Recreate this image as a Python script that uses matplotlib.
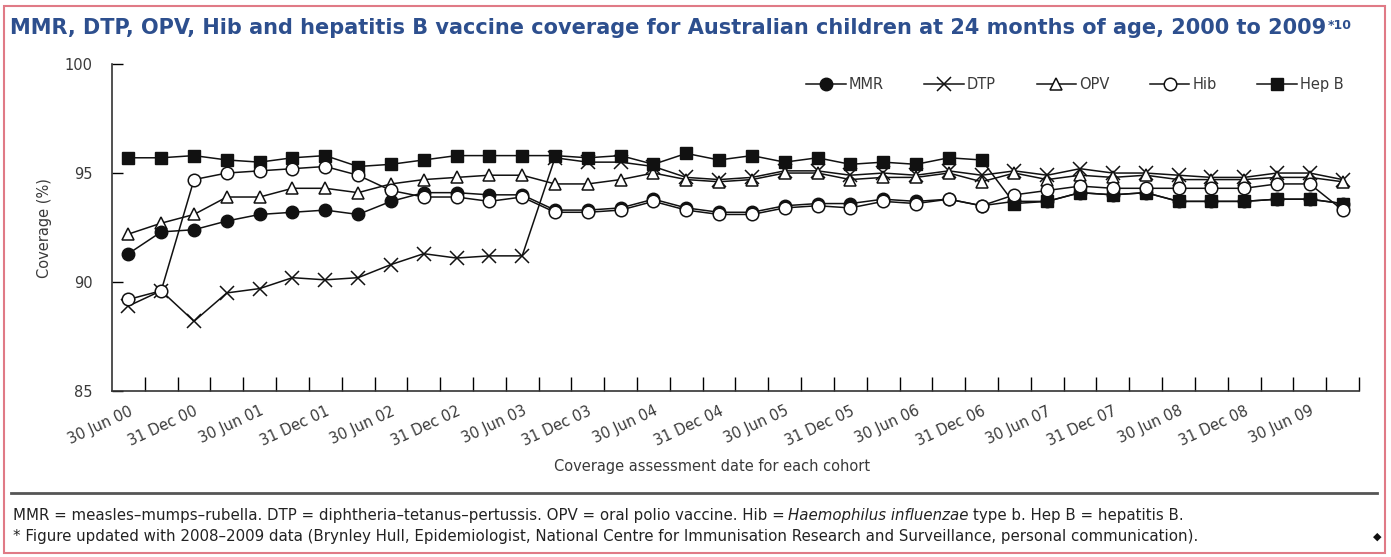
import matplotlib
matplotlib.use("Agg")
import matplotlib.pyplot as plt
from matplotlib.lines import Line2D
from matplotlib.patches import Rectangle

# Quarterly coverage at 24 months, 30 Jun 2000 .. 30 Sep 2009 (38 points)
mmr = [91.3, 92.3, 92.4, 92.8, 93.1, 93.2, 93.3, 93.1, 93.7, 94.1, 94.1, 94.0, 94.0,
       93.3, 93.3, 93.4, 93.8, 93.4, 93.2, 93.2, 93.5, 93.6, 93.6, 93.8, 93.7, 93.8,
       93.5, 93.7, 93.7, 94.1, 94.0, 94.1, 93.7, 93.7, 93.7, 93.8, 93.8, 93.6]
dtp = [88.9, 89.6, 88.2, 89.5, 89.7, 90.2, 90.1, 90.2, 90.8, 91.3, 91.1, 91.2, 91.2,
       95.7, 95.5, 95.5, 95.3, 94.8, 94.7, 94.8, 95.1, 95.1, 94.9, 95.0, 94.9, 95.1,
       94.9, 95.1, 94.9, 95.2, 95.0, 95.0, 94.9, 94.8, 94.8, 95.0, 95.0, 94.7]
opv = [92.2, 92.7, 93.1, 93.9, 93.9, 94.3, 94.3, 94.1, 94.5, 94.7, 94.8, 94.9, 94.9,
       94.5, 94.5, 94.7, 95.0, 94.7, 94.6, 94.7, 95.0, 95.0, 94.7, 94.8, 94.8, 95.0,
       94.6, 95.0, 94.7, 94.9, 94.8, 94.9, 94.7, 94.7, 94.7, 94.8, 94.8, 94.6]
hib = [89.2, 89.6, 94.7, 95.0, 95.1, 95.2, 95.3, 94.9, 94.2, 93.9, 93.9, 93.7, 93.9,
       93.2, 93.2, 93.3, 93.7, 93.3, 93.1, 93.1, 93.4, 93.5, 93.4, 93.7, 93.6, 93.8,
       93.5, 94.0, 94.2, 94.4, 94.3, 94.3, 94.3, 94.3, 94.3, 94.5, 94.5, 93.3]
hepb = [95.7, 95.7, 95.8, 95.6, 95.5, 95.7, 95.8, 95.3, 95.4, 95.6, 95.8, 95.8, 95.8,
        95.8, 95.7, 95.8, 95.4, 95.9, 95.6, 95.8, 95.5, 95.7, 95.4, 95.5, 95.4, 95.7,
        95.6, 93.6, 93.7, 94.1, 94.0, 94.1, 93.7, 93.7, 93.7, 93.8, 93.8, 93.6]

date_labels = ["30 Jun 00", "31 Dec 00", "30 Jun 01", "31 Dec 01", "30 Jun 02",
               "31 Dec 02", "30 Jun 03", "31 Dec 03", "30 Jun 04", "31 Dec 04",
               "30 Jun 05", "31 Dec 05", "30 Jun 06", "31 Dec 06", "30 Jun 07",
               "31 Dec 07", "30 Jun 08", "31 Dec 08", "30 Jun 09"]

title_col = "#2d4f8e"
grey = "#3a3a3a"
note_col = "#222222"

fig = plt.figure(figsize=(13.91, 5.57), dpi=100)
ax = fig.add_axes([0.0805, 0.298, 0.8965, 0.587])

x = list(range(len(mmr)))
style = dict(color="#111111", lw=1.1)
ax.plot(x, dtp, marker="x", ms=10, mew=1.1, **style)
ax.plot(x, opv, marker="^", ms=9, mfc="white", mec="#111111", mew=1.1, **style)
ax.plot(x, hepb, marker="s", ms=8, mfc="#111111", mec="#111111", **style)
ax.plot(x, mmr, marker="o", ms=9, mfc="#111111", mec="#111111", **style)
ax.plot(x, hib, marker="o", ms=9, mfc="white", mec="#111111", mew=1.1, **style)

ax.set_xlim(-0.5, len(mmr) - 0.5)
ax.set_ylim(85, 100)
ax.set_yticks([85, 90, 95, 100])
ax.tick_params(axis="y", direction="in", length=8, width=1, labelsize=10.5,
               labelcolor=grey, pad=14)
ax.set_xticks(range(0, 37, 2))
ax.set_xticklabels(date_labels, rotation=25, ha="right", rotation_mode="anchor",
                   fontsize=10.5, color=grey)
ax.tick_params(axis="x", which="major", length=0, pad=9)
ax.set_xticks([i + 0.5 for i in range(len(mmr))], minor=True)
ax.tick_params(axis="x", which="minor", direction="in", length=10, width=1)
for s in ["top", "right"]:
    ax.spines[s].set_visible(False)
for s in ["left", "bottom"]:
    ax.spines[s].set_color("#333333")
    ax.spines[s].set_linewidth(1.2)

handles = [
    Line2D([], [], marker="o", ms=9, mfc="#111111", mec="#111111", **style),
    Line2D([], [], marker="x", ms=10, mew=1.1, **style),
    Line2D([], [], marker="^", ms=9, mfc="white", mec="#111111", mew=1.1, **style),
    Line2D([], [], marker="o", ms=9, mfc="white", mec="#111111", mew=1.1, **style),
    Line2D([], [], marker="s", ms=8, mfc="#111111", mec="#111111", **style),
]
ax.legend(handles, ["MMR", "DTP", "OPV", "Hib", "Hep B"], ncol=5, frameon=False,
          loc="center right", bbox_to_anchor=(0.998, 0.936), fontsize=10.5,
          handlelength=2.7, handletextpad=0.2, columnspacing=2.8,
          labelcolor=grey)

fig.text(0.032, 0.59, "Coverage (%)", rotation=90, ha="center", va="center",
         fontsize=10.5, color=grey)
fig.text(0.512, 0.162, "Coverage assessment date for each cohort", ha="center",
         va="center", fontsize=10.5, color=grey)

# title with superscript reference
t = fig.text(0.007, 0.95, "MMR, DTP, OPV, Hib and hepatitis B vaccine coverage for "
             "Australian children at 24 months of age, 2000 to 2009",
             ha="left", va="center", fontsize=15, fontweight="bold", color=title_col)
fig.add_artist(plt.Annotation("*10", xy=(1, 1), xycoords=t, xytext=(1, -1),
                              textcoords="offset points", ha="left", va="top",
                              fontsize=9, fontweight="bold", color=title_col))

fig.add_artist(Line2D([0.008, 0.99], [0.115, 0.115], transform=fig.transFigure,
                      color="#555555", lw=2))

# footnotes
f1 = fig.text(0.009, 0.075, "MMR = measles–mumps–rubella. DTP = diphtheria–tetanus–pertussis. "
              "OPV = oral polio vaccine. Hib =", ha="left", va="center",
              fontsize=10.8, color=note_col)
f2 = plt.Annotation("Haemophilus influenzae", xy=(1, 0), xycoords=f1, xytext=(3, 0),
                    textcoords="offset points", ha="left", va="bottom",
                    fontsize=10.8, style="italic", color=note_col)
fig.add_artist(f2)
fig.add_artist(plt.Annotation("type b. Hep B = hepatitis B.", xy=(1, 0), xycoords=f2,
                              xytext=(3, 0), textcoords="offset points", ha="left",
                              va="bottom", fontsize=10.8, color=note_col))
fig.text(0.009, 0.036, "* Figure updated with 2008–2009 data (Brynley Hull, Epidemiologist, "
         "National Centre for Immunisation Research and Surveillance, personal communication).",
         ha="left", va="center", fontsize=10.8, color=note_col)
fig.text(0.99, 0.036, "◆", ha="center", va="center", fontsize=8, color="#111111")

fig.add_artist(Rectangle((0.003, 0.008), 0.993, 0.982, transform=fig.transFigure,
                         fill=False, edgecolor="#e07a86", lw=1.5))

fig.savefig("out.png", dpi=100)
